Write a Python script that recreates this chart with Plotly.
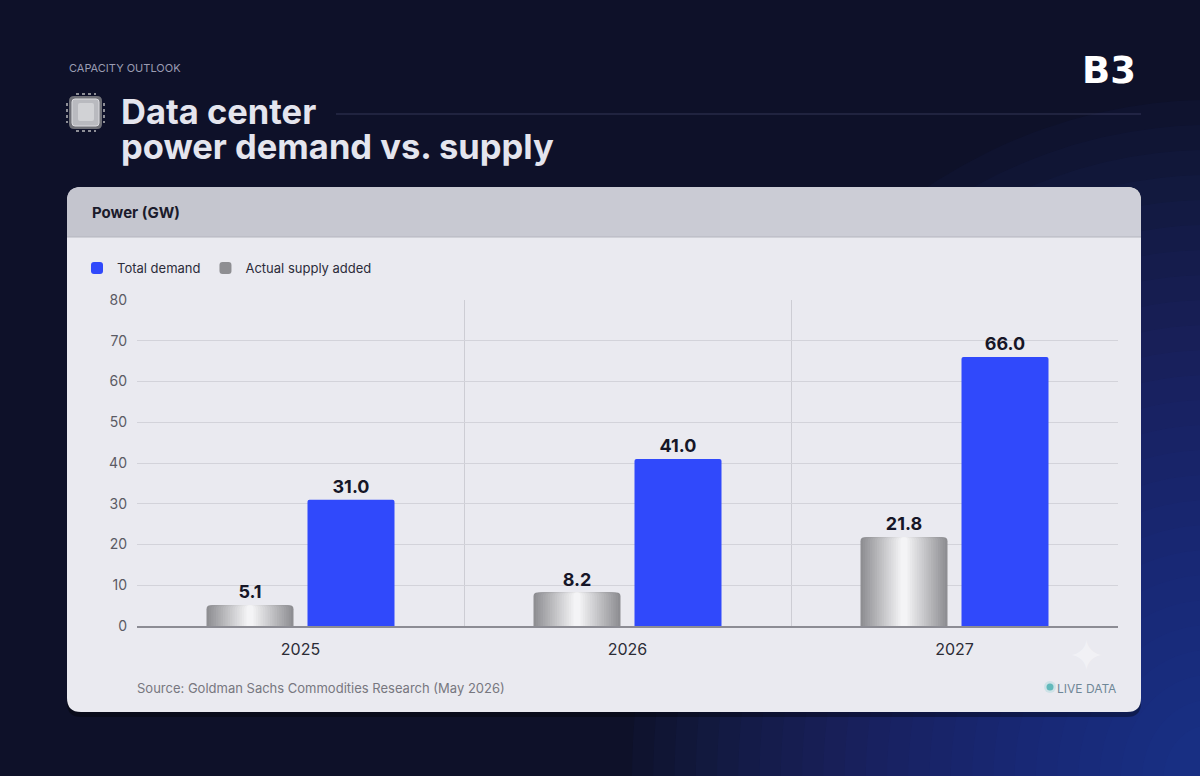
import plotly.graph_objects as go

# data
years = ["2025", "2026", "2027"]
supply_added = [5.1, 8.2, 21.8]
total_demand = [31.0, 41.0, 66.0]
y_ticks = [0, 10, 20, 30, 40, 50, 60, 70, 80]

# plot area in page pixels
L, R, T, B = 137, 1118, 300, 626
W, H = R - L, B - T


def px(x):
    return (x - L) / W


def py(y):
    return (B - y) / H


def rrect(x0, y0, x1, y1, r, tl=True, tr=True, br=True, bl=True):
    # rounded rectangle path in paper coords, pixel input
    rx, ry = r / W, r / H
    a, b, c, d = px(x0), px(x1), py(y0), py(y1)
    p = [f"M{a + rx if tl else a},{c}"]
    if tr:
        p.append(f"L{b - rx},{c} Q{b},{c} {b},{c - ry}")
    else:
        p.append(f"L{b},{c}")
    if br:
        p.append(f"L{b},{d + ry} Q{b},{d} {b - rx},{d}")
    else:
        p.append(f"L{b},{d}")
    if bl:
        p.append(f"L{a + rx},{d} Q{a},{d} {a},{d + ry}")
    else:
        p.append(f"L{a},{d}")
    if tl:
        p.append(f"L{a},{c - ry} Q{a},{c} {a + rx},{c}")
    p.append("Z")
    return " ".join(p)


def mix(c1, c2, t):
    return "#" + "".join(
        f"{round(int(c1[i:i + 2], 16) * (1 - t) + int(c2[i:i + 2], 16) * t):02x}"
        for i in (1, 3, 5)
    )


BAR_W = 87 / 327
SHIFT = 101 / 327 / 2
LABEL_FONT = dict(family="Inter", size=18, color="#161627")

fig = go.Figure()

# metallic gray bars, drawn as layers from dark edge to bright core
n_layers = 18
for i in range(n_layers):
    frac = 1.0 - i * (0.92 / (n_layers - 1))
    col = mix("#8e8e92", "#f4f4f6", i / (n_layers - 1))
    w = BAR_W * frac
    fig.add_trace(go.Bar(
        x=years,
        y=supply_added,
        width=w,
        offset=-SHIFT - w / 2,
        marker=dict(color=col, line=dict(width=0), cornerradius=4),
        name="Actual supply added",
        showlegend=(i == 0),
        legendrank=2,
        texttemplate="<b>%{y:.1f}</b>" if i == 0 else None,
        textposition="outside" if i == 0 else "none",
        textfont=LABEL_FONT,
        cliponaxis=False,
    ))

fig.add_trace(go.Bar(
    x=years,
    y=total_demand,
    width=BAR_W,
    offset=SHIFT - BAR_W / 2,
    marker=dict(color="#3049fb", line=dict(width=0), cornerradius=2),
    name="Total demand",
    legendrank=1,
    texttemplate="<b>%{y:.1f}</b>",
    textposition="outside",
    textfont=LABEL_FONT,
    cliponaxis=False,
))

shapes = []
# soft blue glow in the lower right of the page
for k in range(26):
    rad = 680 - k * 25
    cx, cy = 1210, 780
    shapes.append(dict(
        type="circle", xref="paper", yref="paper", layer="below",
        x0=px(cx - rad * 0.85), x1=px(cx + rad * 0.85), y0=py(cy + rad), y1=py(cy - rad),
        fillcolor="rgba(50,60,190,0.045)", line=dict(width=0),
    ))
# card, shadow and header band
shapes.append(dict(type="path", xref="paper", yref="paper", layer="below",
                   path=rrect(67, 191, 1141, 717, 14), fillcolor="rgba(0,0,0,0.35)",
                   line=dict(width=0)))
shapes.append(dict(type="path", xref="paper", yref="paper", layer="below",
                   path=rrect(67, 187, 1141, 712, 14), fillcolor="#eaeaf0",
                   line=dict(width=0)))
shapes.append(dict(type="path", xref="paper", yref="paper", layer="below",
                   path=rrect(67, 187, 1141, 237, 14, br=False, bl=False),
                   fillcolor="#c4c5ce", line=dict(width=0)))
for k in range(10):
    xs = 120 + k * 100
    shapes.append(dict(type="path", xref="paper", yref="paper", layer="below",
                       path=rrect(xs, 187, 1141, 237, 14, tl=False, br=False, bl=False),
                       fillcolor="rgba(255,255,255,0.028)", line=dict(width=0)))
shapes.append(dict(type="line", xref="paper", yref="paper", layer="below",
                   x0=px(67), x1=px(1141), y0=py(237), y1=py(237),
                   line=dict(color="#b4b5be", width=1)))
# title rule
shapes.append(dict(type="line", xref="paper", yref="paper",
                   x0=px(336), x1=px(1141), y0=py(114), y1=py(114),
                   line=dict(color="rgba(130,135,185,0.32)", width=1)))
# chip icon
shapes.append(dict(type="path", xref="paper", yref="paper",
                   path=rrect(69, 96, 102, 129, 5), fillcolor="#6f7077",
                   line=dict(width=0)))
shapes.append(dict(type="path", xref="paper", yref="paper",
                   path=rrect(72, 99, 99, 126, 3), fillcolor="#b9babf",
                   line=dict(color="#dcdce0", width=1)))
shapes.append(dict(type="path", xref="paper", yref="paper",
                   path=rrect(78, 103, 94, 121, 2), fillcolor="rgba(255,255,255,0.35)",
                   line=dict(width=0)))
for yy in (94, 131):
    shapes.append(dict(type="line", xref="paper", yref="paper",
                       x0=px(76), x1=px(96), y0=py(yy), y1=py(yy),
                       line=dict(color="#8d8e96", width=2, dash="dot")))
for xx in (67, 104):
    shapes.append(dict(type="line", xref="paper", yref="paper",
                       x0=px(xx), x1=px(xx), y0=py(103), y1=py(123),
                       line=dict(color="#8d8e96", width=2, dash="dot")))
# live data dot
shapes.append(dict(type="circle", xref="paper", yref="paper",
                   x0=px(1044), x1=px(1056), y0=py(693), y1=py(681),
                   fillcolor="rgba(110,200,200,0.22)", line=dict(width=0)))
shapes.append(dict(type="circle", xref="paper", yref="paper",
                   x0=px(1046.5), x1=px(1053.5), y0=py(690.5), y1=py(683.5),
                   fillcolor="#62b9bb", line=dict(width=0)))

title_font = dict(family="Inter", size=34.5, color="#e4e5ee")
annotations = [
    dict(text="CAPACITY OUTLOOK", x=px(67), y=py(68), xanchor="left", yanchor="middle",
         font=dict(family="Inter", size=11, color="#9a9cb2")),
    dict(text="<b>Data center</b>", x=px(119), y=py(111), xanchor="left", yanchor="middle",
         font=title_font),
    dict(text="<b>power demand vs. supply</b>", x=px(119), y=py(146), xanchor="left",
         yanchor="middle", font=title_font),
    dict(text="<b>B3</b>", x=px(1109), y=py(70), xanchor="center", yanchor="middle",
         font=dict(family="DejaVu Sans", size=37, color="#ffffff")),
    dict(text="<b>Power (GW)</b>", x=px(90), y=py(212), xanchor="left", yanchor="middle",
         font=dict(family="Inter", size=15, color="#1b1b2b")),
    dict(text="Source: Goldman Sachs Commodities Research (May 2026)", x=px(135), y=py(688),
         xanchor="left", yanchor="middle", font=dict(family="Inter", size=13, color="#77777f")),
    dict(text="LIVE DATA", x=px(1118), y=py(688), xanchor="right", yanchor="middle",
         font=dict(family="Inter", size=12, color="#6f8797")),
    dict(text="✦", x=px(1086), y=py(655), xanchor="center", yanchor="middle",
         font=dict(family="DejaVu Sans", size=44, color="rgba(255,255,255,0.38)")),
]
for a in annotations:
    a.update(xref="paper", yref="paper", showarrow=False)

fig.update_layout(
    width=1200,
    height=776,
    margin=dict(l=L, r=1200 - R, t=T, b=776 - B, pad=0),
    paper_bgcolor="#0e1129",
    plot_bgcolor="rgba(0,0,0,0)",
    barmode="overlay",
    font=dict(family="Inter", color="#333340"),
    shapes=shapes,
    annotations=annotations,
    legend=dict(
        orientation="h", x=px(77), y=py(268), xanchor="left", yanchor="middle",
        bgcolor="rgba(0,0,0,0)", font=dict(family="Inter", size=13, color="#2c2c3a"),
        itemwidth=30, traceorder="normal",
    ),
    xaxis=dict(
        type="category", range=[-0.5, 2.5], tickson="boundaries",
        showgrid=True, gridcolor="#cdcdd4", gridwidth=1,
        showline=True, linecolor="#8c8c94", linewidth=1.5,
        ticks="", ticklabelstandoff=8,
        tickfont=dict(family="Inter", size=16, color="#2c2c36"),
        fixedrange=True,
    ),
    yaxis=dict(
        range=[0, 80], tickvals=y_ticks, showgrid=True, gridcolor="#d3d3da",
        zeroline=False, ticks="", ticklabelstandoff=9,
        tickfont=dict(family="Inter", size=14, color="#5a5a64"),
        fixedrange=True,
    ),
    hovermode=False,
)

fig.write_html("out.html", config={"displayModeBar": False},
               post_script="document.body.style.margin='0';")
